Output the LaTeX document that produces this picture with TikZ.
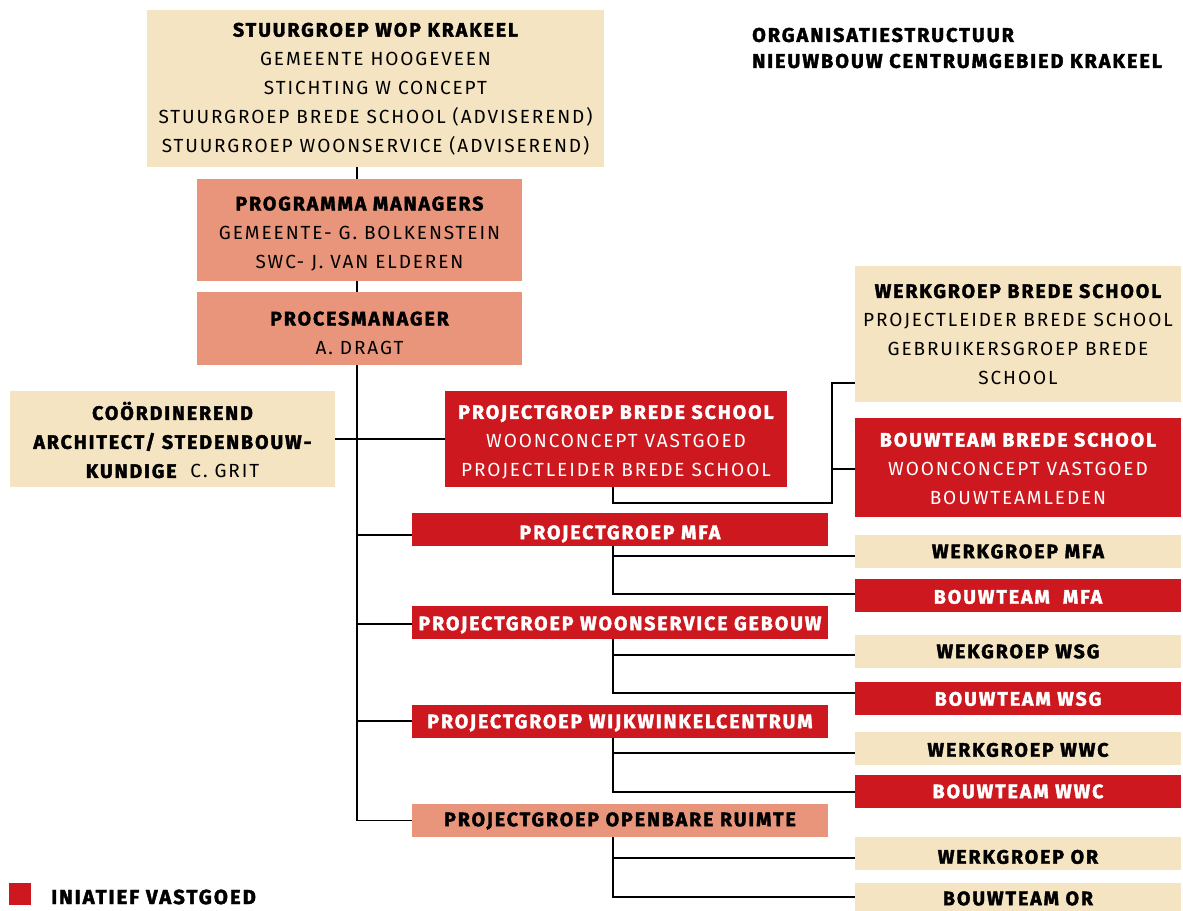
\documentclass[tikz,border=0pt]{standalone}
\usepackage{fontspec}
\setmainfont{Fira Sans}[LetterSpace=10, BoldFeatures={FakeBold=2}]
\definecolor{beige}{HTML}{F4E4C1}
\definecolor{salmon}{HTML}{E8957B}
\definecolor{vred}{HTML}{CC181E}
\newcommand{\hd}{\fontsize{19.5}{29}\selectfont\bfseries}
% invisible strut that lowers a multi-line block
\newcommand{\firststrut}[1]{\rule{0pt}{#1pt}}
\begin{document}
\begin{tikzpicture}[x=1pt,y=-1pt,
  box/.style={rectangle, inner sep=0pt, align=center,
    font=\fontsize{19}{29}\selectfont},
  beigebox/.style={box, fill=beige, text=black},
  salmonbox/.style={box, fill=salmon, text=black},
  redbox/.style={box, fill=vred, text=white},
  % one-line box: the argument sets how far the caps sit below the middle
  oneline/.style={text height={13.4pt+2*(#1)}, text depth=0pt,
    minimum height=33},
  conn/.style={draw=black, line width=1.4pt}]
\useasboundingbox (0,0) rectangle (1183,910);

% top of the hierarchy
\node[beigebox, minimum width=457, minimum height=157] (sg) at (375.5,88.5)
  {{\hd\firststrut{15}STUURGROEP WOP KRAKEEL}\\GEMEENTE HOOGEVEEN\\STICHTING W CONCEPT\\
   STUURGROEP BREDE SCHOOL (ADVISEREND)\\STUURGROEP WOONSERVICE (ADVISEREND)};
\node[salmonbox, minimum width=325, minimum height=102] (pm) at (359.5,230)
  {{\hd\firststrut{21.4}PROGRAMMA MANAGERS}\\GEMEENTE- G. BOLKENSTEIN\\SWC- J. VAN ELDEREN};
\node[salmonbox, minimum width=325, minimum height=73] (proc) at (359.5,328.5)
  {{\hd\firststrut{23}PROCESMANAGER}\\A. DRAGT};
\node[beigebox, minimum width=325, minimum height=96] (arch) at (172.5,439)
  {{\hd\firststrut{20}COÖRDINEREND}\\{\hd ARCHITECT/ STEDENBOUW-}\\{\hd KUNDIGE}\ \ C. GRIT};

% project groups
\node[redbox, minimum width=342, minimum height=96] (pgbs) at (616,439)
  {{\hd\firststrut{20.4}PROJECTGROEP BREDE SCHOOL}\\WOONCONCEPT VASTGOED\\PROJECTLEIDER BREDE SCHOOL};
\node[redbox, oneline=3, minimum width=416] (pmfa) at (620,529.5)
  {\hd PROJECTGROEP MFA};
\node[redbox, oneline=1.5, minimum width=416] (pwsg) at (620,622)
  {\hd PROJECTGROEP WOONSERVICE GEBOUW};
\node[redbox, oneline=0, minimum width=416] (pwwc) at (620,721.5)
  {\hd PROJECTGROEP WIJKWINKELCENTRUM};
\node[salmonbox, oneline=-1, minimum width=416] (por) at (620,820.5)
  {\hd PROJECTGROEP OPENBARE RUIMTE};

% work groups and building teams
\node[beigebox, minimum width=326, minimum height=136] (wbs) at (1018,334)
  {{\hd\firststrut{15}WERKGROEP BREDE SCHOOL}\\PROJECTLEIDER BREDE SCHOOL\\GEBRUIKERSGROEP BREDE\\SCHOOL};
\node[redbox, minimum width=326, minimum height=99] (bbs) at (1018,467.5)
  {{\hd\firststrut{16.4}BOUWTEAM BREDE SCHOOL}\\WOONCONCEPT VASTGOED\\BOUWTEAMLEDEN};
\node[beigebox, oneline=0,   minimum width=326] (wmfa) at (1018,551.5) {\hd WERKGROEP MFA};
\node[redbox,   oneline=1.5, minimum width=326] (bmfa) at (1018,595.5) {\hd BOUWTEAM\ \ MFA};
\node[beigebox, oneline=0.5, minimum width=326] (wwsg) at (1018,651) {\hd WEKGROEP WSG};
\node[redbox,   oneline=1,   minimum width=326] (bwsg) at (1018,698) {\hd BOUWTEAM WSG};
\node[beigebox, oneline=2,   minimum width=326] (wwwc) at (1018,748) {\hd WERKGROEP WWC};
\node[redbox,   oneline=0,   minimum width=326] (bwwc) at (1018,791.5) {\hd BOUWTEAM WWC};
\node[beigebox, oneline=3.5, minimum width=326] (wor) at (1018,853.5) {\hd WERKGROEP OR};
\node[beigebox, oneline=-1,  minimum width=326] (bor) at (1018,899.5) {\hd BOUWTEAM OR};

% title and legend
\node[anchor=west, inner sep=0pt, font=\fontsize{19.8}{26}\selectfont\bfseries, align=left]
  (title) at (752,48) {ORGANISATIESTRUCTUUR\\NIEUWBOUW CENTRUMGEBIED KRAKEEL};
\node[rectangle, fill=vred, minimum size=22, inner sep=0pt] (legsq) at (20,894) {};
\node[anchor=west, inner sep=0pt, font=\fontsize{20.3}{22}\selectfont\bfseries]
  (legtx) at (51,897) {INIATIEF VASTGOED};

% junction coordinates
\coordinate (sp) at (357,0);
\coordinate (sx) at (613,0);
\coordinate (jx) at (832,0);
\coordinate (ymfa) at (0,535);
\coordinate (ywsg) at (0,624);
\coordinate (ywwc) at (0,721);
\coordinate (ybsA) at (0,503);
\coordinate (ywbs) at (0,383);
\coordinate (ybbs) at (0,469);
\coordinate (y1) at (0,556);
\coordinate (y2) at (0,594);
\coordinate (y3) at (0,655);
\coordinate (y4) at (0,693);
\coordinate (y5) at (0,753);
\coordinate (y6) at (0,792);
\coordinate (y7) at (0,858);
\coordinate (y8) at (0,897);

% main spine
\draw[conn] (sg.south -| sp) -- (pm.north -| sp);
\draw[conn] (pm.south -| sp) -- (proc.north -| sp);
\draw[conn] (proc.south -| sp) -- (sp |- por.west) -- (por.west);
\draw[conn] (arch.east) -- (pgbs.west);
\draw[conn] (sp |- ymfa) -- (pmfa.west |- ymfa);
\draw[conn] (sp |- ywsg) -- (pwsg.west |- ywsg);
\draw[conn] (sp |- ywwc) -- (pwwc.west |- ywwc);

% brede school branch
\draw[conn] (pgbs.south -| sx) -- (sx |- ybsA) -- (jx |- ybsA) -- (jx |- ywbs) -- (wbs.west |- ywbs);
\draw[conn] (jx |- ybbs) -- (bbs.west |- ybbs);

% other branches
\draw[conn] (pmfa.south -| sx) -- (sx |- y2) -- (bmfa.west |- y2);
\draw[conn] (sx |- y1) -- (wmfa.west |- y1);
\draw[conn] (pwsg.south -| sx) -- (sx |- y4) -- (bwsg.west |- y4);
\draw[conn] (sx |- y3) -- (wwsg.west |- y3);
\draw[conn] (pwwc.south -| sx) -- (sx |- y6) -- (bwwc.west |- y6);
\draw[conn] (sx |- y5) -- (wwwc.west |- y5);
\draw[conn] (por.south -| sx) -- (sx |- y8) -- (bor.west |- y8);
\draw[conn] (sx |- y7) -- (wor.west |- y7);
\end{tikzpicture}
\end{document}
